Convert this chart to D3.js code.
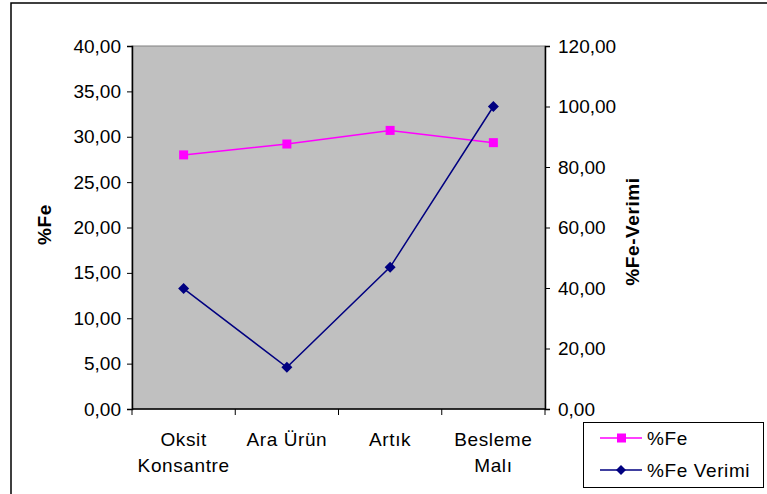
<!DOCTYPE html>
<html>
<head>
<meta charset="utf-8">
<script src="https://cdn.jsdelivr.net/npm/d3@7"></script>
<style>
  html, body { margin: 0; padding: 0; background: #fff; }
  svg { display: block; font-family: Arial, "Liberation Sans", sans-serif; }
</style>
</head>
<body>
<svg id="chart" width="767" height="494"></svg>
<script>
// Categories and series
const categories = [["Oksit", "Konsantre"], ["Ara Ürün"], ["Artık"], ["Besleme", "Malı"]];
const feValues = [28.0, 29.2, 30.7, 29.35];
const verimValues = [39.8, 13.8, 46.9, 100.0];
const leftTicks = [0, 5, 10, 15, 20, 25, 30, 35, 40];
const rightTicks = [0, 20, 40, 60, 80, 100, 120];
const seriesNames = ["%Fe", "%Fe Verimi"];

const FS = 19;
const LS = 0.6;
const svg = d3.select("#chart");
const plot = { left: 132, right: 545, top: 46, bottom: 409 };
const fmt = v => d3.format(".2f")(v).replace(".", ",");

// Outer frame (left and top edges visible)
svg.append("path")
  .attr("d", "M11,494 V3 H767")
  .attr("fill", "none").attr("stroke", "#000").attr("stroke-width", 1.5);

const x = d3.scaleBand().domain(d3.range(categories.length))
  .range([plot.left, plot.right]).padding(0);
const yL = d3.scaleLinear().domain([0, 40]).range([plot.bottom, plot.top]);
const yR = d3.scaleLinear().domain([0, 120]).range([plot.bottom, plot.top]);

// Plot area background
svg.append("rect")
  .attr("x", plot.left).attr("y", plot.top)
  .attr("width", plot.right - plot.left).attr("height", plot.bottom - plot.top)
  .attr("fill", "#c0c0c0").attr("stroke", "#808080").attr("stroke-width", 1);

// Left axis
const gL = svg.append("g").attr("transform", `translate(${plot.left},0)`)
  .call(d3.axisLeft(yL).tickValues(leftTicks).tickFormat(fmt).tickSize(5).tickPadding(6));
// Right axis
const gR = svg.append("g").attr("transform", `translate(${plot.right},0)`)
  .call(d3.axisRight(yR).tickValues(rightTicks).tickFormat(fmt).tickSize(5).tickPadding(8));
// Bottom axis: ticks at category boundaries
const gB = svg.append("g").attr("transform", `translate(0,${plot.bottom})`);
gB.append("line").attr("x1", plot.left).attr("x2", plot.right)
  .attr("stroke", "#000").attr("stroke-width", 1.5);
d3.range(categories.length + 1).forEach(i => {
  const xx = plot.left + i * x.bandwidth();
  gB.append("line").attr("x1", xx).attr("x2", xx).attr("y1", 0).attr("y2", 6)
    .attr("stroke", "#000");
});
categories.forEach((lines, i) => {
  const t = gB.append("text")
    .attr("x", x(i) + x.bandwidth() / 2).attr("y", 37)
    .attr("text-anchor", "middle").attr("font-size", FS)
    .attr("letter-spacing", LS).attr("fill", "#000");
  lines.forEach((ln, j) => t.append("tspan")
    .attr("x", x(i) + x.bandwidth() / 2).attr("dy", j === 0 ? 0 : 26).text(ln));
});

[gL, gR].forEach(g => {
  g.select(".domain").attr("stroke", "#000").attr("stroke-width", 1.5);
  g.selectAll(".tick line").attr("stroke", "#000");
  g.selectAll(".tick text").attr("font-size", FS).attr("fill", "#000")
    .style("font-family", "Arial, 'Liberation Sans', sans-serif");
});

// Axis titles
svg.append("text")
  .attr("transform", `translate(51,${(plot.top + plot.bottom) / 2 - 3}) rotate(-90)`)
  .attr("text-anchor", "middle").attr("font-size", FS).attr("font-weight", "bold")
  .attr("letter-spacing", LS).text("%Fe");
svg.append("text")
  .attr("transform", `translate(639,${(plot.top + plot.bottom) / 2 + 4}) rotate(-90)`)
  .attr("text-anchor", "middle").attr("font-size", FS).attr("font-weight", "bold")
  .attr("letter-spacing", LS).text("%Fe-Verimi");

const cx = i => x(i) + x.bandwidth() / 2;

// %Fe series
const feColor = "#ff00ff";
svg.append("path")
  .datum(feValues)
  .attr("d", d3.line().x((d, i) => cx(i)).y(d => yL(d)))
  .attr("fill", "none").attr("stroke", feColor).attr("stroke-width", 1.5);
svg.selectAll(".fe-pt").data(feValues).enter().append("rect")
  .attr("x", (d, i) => cx(i) - 4.5).attr("y", d => yL(d) - 4.5)
  .attr("width", 9).attr("height", 9).attr("fill", feColor);

// %Fe Verimi series
const vColor = "#000080";
const diamond = (px, py, r) => `M${px},${py - r}L${px + r},${py}L${px},${py + r}L${px - r},${py}Z`;
svg.append("path")
  .datum(verimValues)
  .attr("d", d3.line().x((d, i) => cx(i)).y(d => yR(d)))
  .attr("fill", "none").attr("stroke", vColor).attr("stroke-width", 1.5);
svg.selectAll(".v-pt").data(verimValues).enter().append("path")
  .attr("d", (d, i) => diamond(cx(i), yR(d), 5.5)).attr("fill", vColor);

// Legend
const lg = svg.append("g");
lg.append("rect").attr("x", 583.5).attr("y", 422.5).attr("width", 180).attr("height", 65)
  .attr("fill", "#fff").attr("stroke", "#000").attr("stroke-width", 1);
const legendRows = [
  { name: seriesNames[0], color: feColor, y: 438, shape: "square" },
  { name: seriesNames[1], color: vColor, y: 470, shape: "diamond" }
];
legendRows.forEach(r => {
  lg.append("line").attr("x1", 600).attr("x2", 642).attr("y1", r.y).attr("y2", r.y)
    .attr("stroke", r.color).attr("stroke-width", 1.5);
  if (r.shape === "square") {
    lg.append("rect").attr("x", 617).attr("y", r.y - 4.5).attr("width", 9).attr("height", 9)
      .attr("fill", r.color);
  } else {
    lg.append("path").attr("d", diamond(621, r.y, 5)).attr("fill", r.color);
  }
  lg.append("text").attr("x", 647).attr("y", r.y + 7).attr("font-size", FS)
    .attr("letter-spacing", LS).text(r.name);
});
</script>
</body>
</html>
